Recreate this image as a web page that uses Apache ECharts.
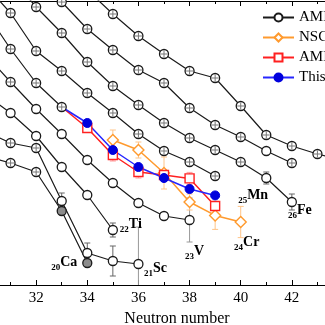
<!DOCTYPE html>
<html><head><meta charset="utf-8">
<script src="https://cdn.jsdelivr.net/npm/echarts@6/dist/echarts.min.js"></script>
<style>html,body{margin:0;padding:0;background:#fff}#c{width:325px;height:325px}</style>
</head><body><div id="c"></div>
<script>
// ---- data (arbitrary energy-like units) ----
const xTicks = [32, 34, 36, 38, 40, 42];
// AME isotopic chains: first neutron number + values
const caN0 = 30, caVals = [6.45, 6.1, 5.65, 3.7, 1.1];
const scN0 = 30, scVals = [7.7, 7.1, 6.85, 4.2, 1.6, 1.2, 1.05];
const tiN0 = 30, tiVals = [9.55, 8.6, 7.45, 5.9, 4.5, 2.75];
const vN0 = 30, vVals = [11.55, 10.15, 8.8, 7.55, 6.25, 5.1, 4.1, 3.45, 3.25];
const crN0 = 30, crVals = [13.7, 11.8, 10.1, 8.9];
const mnN0 = 30, mnVals = [15.0, 13.6, 11.7, 10.7, 9.6, 8.6, 7.55, 6.7, 6.15, 5.45];
const feN0 = 31, feVals = [15.4, 13.9, 12.6, 11.15, 9.95, 9.0, 8.1, 7.35, 6.75, 6.15, 5.35, 4.15];
const coN0 = 32, coVals = [15.65, 14.15, 12.8, 11.75, 10.75, 10.1, 8.85, 8.0, 7.4, 6.7, 6.1];
const niN0 = 34, niVals = [14.75, 13.55, 12.45, 11.55, 10.7, 10.35, 8.95, 7.5, 6.95, 6.55, 6.25];
// Cr chain, other evaluations
const thisN0 = 33, thisVals = [8.9, 8.1, 6.75, 5.9, 5.35, 4.8, 4.48];
const ame2N0 = 33, ame2Vals = [8.9, 7.85, 6.5, 5.65, 5.5, 5.33, 3.95];
const ame2Err = [0, 0.2, 0.3, 0.3, 0.15, 0.3, 0.15];
const nsclN0 = 35, nsclVals = [7.25, 6.75, 5.6, 4.15, 3.48, 3.15];
const nsclErr = [0.5, 0.4, 0.8, 0.4, 0.7, 0.78];
// AME uncertainties: [N, value, error]
const ameErrSmall = [[35, 2.75, 0.35], [33, 4.2, 0.4], [34, 1.6, 0.5], [35, 1.2, 0.75], [41, 5.35, 0.3], [42, 4.15, 0.4], [37, 3.45, 0.15]];
const ameErrLarge = [[38, 3.25, 1.1], [36, 1.05, 1.85]];
// ---- style ----
const FONT = 'Liberation Serif';
const BLACK = '#1a1a1a';
const chains = [
  {n0: caN0, v: caVals, el: 'Ca', z: '20', cross: [31, 32], grey: [33, 34], lab: [-23, 1]},
  {n0: scN0, v: scVals, el: 'Sc', z: '21', cross: [31, 32], lab: [17, 6]},
  {n0: tiN0, v: tiVals, el: 'Ti', z: '22', cross: [], lab: [18, -4]},
  {n0: vN0, v: vVals, el: 'V', z: '23', cross: [31], lab: [5, 33]},
  {n0: crN0, v: crVals, cross: [31, 32, 33]},
  {n0: mnN0, v: mnVals, el: 'Mn', z: '25', cross: [31, 32, 33, 34, 35, 36, 37, 38, 39], lab: [38, 21]},
  {n0: feN0, v: feVals, el: 'Fe', z: '26', cross: [32, 33, 34, 35, 36, 37, 38, 39, 40], lab: [8, 10]},
  {n0: coN0, v: coVals, cross: [33, 34, 35, 36, 37, 38, 39, 40, 42]},
  {n0: niN0, v: niVals, cross: [35, 36, 37, 38, 39, 40, 41, 42, 43]}
];
const rich = {
  sub: {fontSize: 9, fontWeight: 'bold', fontFamily: FONT, color: '#000', verticalAlign: 'bottom'},
  el: {fontSize: 14, fontWeight: 'bold', fontFamily: FONT, color: '#000', verticalAlign: 'bottom', padding: [0, 0, 3, 0]}
};
function labelCfg(z, el, off) {
  return {show: true, position: 'inside', offset: off, formatter: '{sub|' + z + '}{el|' + el + '}', rich: rich};
}
const series = [];
const crossPts = [];
chains.forEach(c => {
  const data = c.v.map((v, i) => {
    const n = c.n0 + i;
    const item = {value: [n, v]};
    if (c.grey && c.grey.includes(n)) item.itemStyle = {color: '#8c8c8c'};
    if (c.cross.includes(n)) crossPts.push([n, v]);
    return item;
  });
  if (c.el) data[data.length - 1].label = labelCfg(c.z, c.el, c.lab);
  series.push({
    name: 'AME2012', type: 'line', z: 3, data: data, symbol: 'circle', symbolSize: 9,
    lineStyle: {color: BLACK, width: 1.2},
    itemStyle: {color: '#fff', borderColor: BLACK, borderWidth: 1.3},
    emphasis: {disabled: true}, animation: false
  });
});
series.push({
  name: 'cross', type: 'scatter', z: 4, silent: true, animation: false,
  symbol: 'path://M3,0h1v3h3v1h-3v3h-1v-3h-3v-1h3z', symbolSize: 7,
  itemStyle: {color: '#555'}, data: crossPts
});
function errSeries(points, color, capW, z) {
  return {
    type: 'custom', z: z, silent: true, animation: false, clip: true,
    encode: {x: 0, y: 1},
    renderItem: function (params, api) {
      const x = api.value(0), y = api.value(1), e = api.value(2);
      const p1 = api.coord([x, y + e]), p2 = api.coord([x, y - e]);
      const h = capW / 2, st = {stroke: color, lineWidth: 1};
      return {type: 'group', children: [
        {type: 'line', shape: {x1: p1[0], y1: p1[1], x2: p2[0], y2: p2[1]}, style: st},
        {type: 'line', shape: {x1: p1[0] - h, y1: p1[1], x2: p1[0] + h, y2: p1[1]}, style: st},
        {type: 'line', shape: {x1: p2[0] - h, y1: p2[1], x2: p2[0] + h, y2: p2[1]}, style: st}
      ]};
    },
    data: points
  };
}
series.push(errSeries(ameErrSmall, '#666', 6, 1));
series.push(errSeries(ameErrLarge, '#999', 6, 1));
series.push(errSeries(nsclVals.map((v, i) => [nsclN0 + i, v, nsclErr[i]]), '#ffc488', 6, 1));
series.push(errSeries(ame2Vals.map((v, i) => [ame2N0 + i, v, ame2Err[i]]).slice(1), '#ff9c9c', 6, 1));
const ORANGE = '#ff9a2e', RED = '#ff2020', BLUE = '#2626ff';
const nsclData = nsclVals.map((v, i) => ({value: [nsclN0 + i, v]}));
nsclData[nsclData.length - 1].label = labelCfg('24', 'Cr', [6, 22]);
series.push({
  name: 'NSCL', type: 'line', z: 2, animation: false, data: nsclData,
  symbol: 'diamond', symbolSize: 11, lineStyle: {color: ORANGE, width: 1.5},
  itemStyle: {color: '#fff', borderColor: ORANGE, borderWidth: 1.4}, emphasis: {disabled: true}
});
series.push({
  name: 'AME2016', type: 'line', z: 2, animation: false,
  data: ame2Vals.map((v, i) => i === 0 ? {value: [ame2N0, v], symbol: 'none'} : {value: [ame2N0 + i, v]}),
  symbol: 'rect', symbolSize: 9, lineStyle: {color: RED, width: 1.5},
  itemStyle: {color: '#fff', borderColor: RED, borderWidth: 1.4}, emphasis: {disabled: true}
});
series.push({
  name: 'This work', type: 'line', z: 2, animation: false,
  data: thisVals.map((v, i) => i === 0 ? {value: [thisN0, v], symbol: 'none'} : {value: [thisN0 + i, v]}),
  symbol: 'circle', symbolSize: 9, lineStyle: {color: BLUE, width: 1.5},
  itemStyle: {color: '#0000dd', borderColor: '#0000dd', borderWidth: 1}, emphasis: {disabled: true}
});
const axisCommon = {
  type: 'value', min: 30, max: 44, interval: 2,
  axisLine: {onZero: false, lineStyle: {color: '#000', width: 1}},
  axisTick: {inside: true, length: 5, lineStyle: {color: '#000'}},
  minorTick: {show: true, splitNumber: 2, length: 3, lineStyle: {color: '#000'}},
  splitLine: {show: false}, minorSplitLine: {show: false}
};
const chart = echarts.init(document.getElementById('c'), null, {renderer: 'canvas'});
chart.setOption({
  animation: false,
  backgroundColor: '#fff',
  grid: {left: -15, right: -18, top: 1, bottom: 40, containLabel: false, outerBoundsMode: 'none'},
  xAxis: [
    Object.assign({}, axisCommon, {
      position: 'bottom',
      axisLabel: {color: '#000', fontFamily: FONT, fontSize: 15, margin: 6,
        formatter: v => xTicks.includes(v) ? String(v) : ''},
      name: 'Neutron number', nameLocation: 'middle', nameGap: 17,
      nameTextStyle: {color: '#000', fontFamily: FONT, fontSize: 16, padding: [0, 0, 0, 26]}
    }),
    Object.assign({}, axisCommon, {position: 'top', axisLabel: {show: false}})
  ],
  yAxis: {type: 'value', min: 0, max: 14.2, show: false},
  legend: {
    data: ['AME2012', 'NSCL', 'AME2016', 'This work'],
    orient: 'vertical', left: 262, top: 10, itemGap: 5, padding: 0,
    itemWidth: 31, itemHeight: 10,
    textStyle: {color: '#000', fontFamily: FONT, fontSize: 15, lineHeight: 15}
  },
  series: series
});
</script></body></html>
